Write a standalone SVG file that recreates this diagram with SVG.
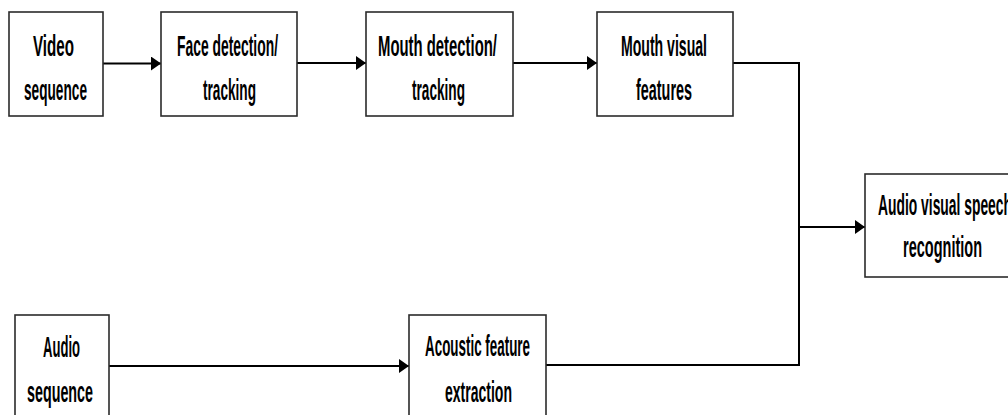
<svg xmlns="http://www.w3.org/2000/svg" width="1008" height="415" viewBox="0 0 1008 415">
  <style>
    .box { fill: #ffffff; stroke: #2b2b2b; stroke-width: 1.6; }
    .lbl { font-family: "Liberation Sans", Arial, sans-serif; font-size: 29px; font-weight: bold; fill: #000000; }
    .wire { fill: none; stroke: #000000; stroke-width: 2; }
  </style>
  <defs>
    <marker id="head" markerUnits="userSpaceOnUse" viewBox="0 0 10 14" refX="10" refY="7" markerWidth="10" markerHeight="14" orient="auto">
      <path d="M0,0 L10,7 L0,14 Z" fill="#000000"/>
    </marker>
  </defs>

  <rect width="1008" height="415" fill="#ffffff"/>

  <g id="connectors">
    <line class="wire" x1="103" y1="63.5" x2="161" y2="63.5" marker-end="url(#head)"/>
    <line class="wire" x1="297" y1="63" x2="366" y2="63" marker-end="url(#head)"/>
    <line class="wire" x1="513" y1="63" x2="597" y2="63" marker-end="url(#head)"/>
    <polyline class="wire" points="733,63 799,63 799,365 546,365"/>
    <line class="wire" x1="799" y1="227" x2="865" y2="227" marker-end="url(#head)"/>
    <line class="wire" x1="109" y1="366" x2="409" y2="366" marker-end="url(#head)"/>
  </g>

  <g id="video-sequence">
    <rect class="box" x="9" y="12" width="94" height="104"/>
    <text class="lbl" x="33" y="56" textLength="41" lengthAdjust="spacingAndGlyphs">Video</text>
    <text class="lbl" x="24" y="100" textLength="63" lengthAdjust="spacingAndGlyphs">sequence</text>
  </g>

  <g id="face-detection">
    <rect class="box" x="161" y="12" width="136" height="104"/>
    <text class="lbl" x="177" y="56" textLength="101" lengthAdjust="spacingAndGlyphs">Face detection/</text>
    <text class="lbl" x="203" y="100" textLength="53" lengthAdjust="spacingAndGlyphs">tracking</text>
  </g>

  <g id="mouth-detection">
    <rect class="box" x="366" y="12" width="147" height="104"/>
    <text class="lbl" x="378" y="56" textLength="119" lengthAdjust="spacingAndGlyphs">Mouth detection/</text>
    <text class="lbl" x="412" y="100" textLength="53" lengthAdjust="spacingAndGlyphs">tracking</text>
  </g>

  <g id="mouth-visual-features">
    <rect class="box" x="597" y="12" width="136" height="104"/>
    <text class="lbl" x="621" y="56" textLength="86" lengthAdjust="spacingAndGlyphs">Mouth visual</text>
    <text class="lbl" x="636" y="100" textLength="56" lengthAdjust="spacingAndGlyphs">features</text>
  </g>

  <g id="av-speech-recognition">
    <rect class="box" x="865" y="174" width="160" height="103"/>
    <text class="lbl" x="878" y="215" textLength="134" lengthAdjust="spacingAndGlyphs">Audio visual speech</text>
    <text class="lbl" x="903" y="257" textLength="79" lengthAdjust="spacingAndGlyphs">recognition</text>
  </g>

  <g id="audio-sequence">
    <rect class="box" x="15" y="315" width="94" height="110"/>
    <text class="lbl" x="43" y="357" textLength="37" lengthAdjust="spacingAndGlyphs">Audio</text>
    <text class="lbl" x="27" y="402" textLength="66" lengthAdjust="spacingAndGlyphs">sequence</text>
  </g>

  <g id="acoustic-feature-extraction">
    <rect class="box" x="409" y="315" width="137" height="110"/>
    <text class="lbl" x="425" y="356" textLength="105" lengthAdjust="spacingAndGlyphs">Acoustic feature</text>
    <text class="lbl" x="445" y="402" textLength="67" lengthAdjust="spacingAndGlyphs">extraction</text>
  </g>
</svg>
